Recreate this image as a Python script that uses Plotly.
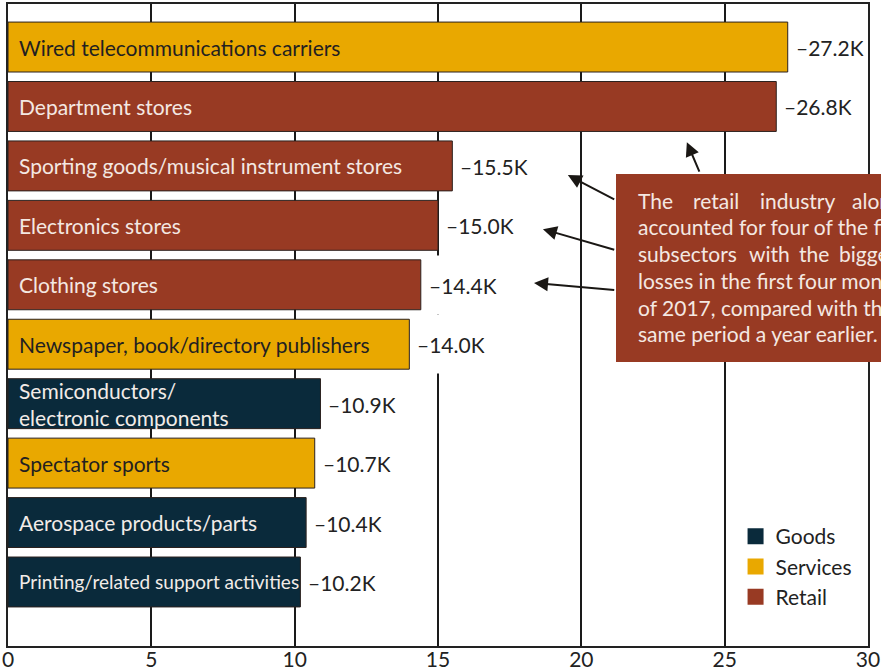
import plotly.graph_objects as go

# Job losses by subsector, first four months of 2017 vs. a year earlier (thousands)
categories = [
    "Wired telecommunications carriers",
    "Department stores",
    "Sporting goods/musical instrument stores",
    "Electronics stores",
    "Clothing stores",
    "Newspaper, book/directory publishers",
    "Semiconductors/<br>electronic components",
    "Spectator sports",
    "Aerospace products/parts",
    "Printing/related support activities",
]
losses = [27.2, 26.8, 15.5, 15.0, 14.4, 14.0, 10.9, 10.7, 10.4, 10.2]
sectors = ["Services", "Retail", "Retail", "Retail", "Retail",
           "Services", "Goods", "Services", "Goods", "Goods"]
value_labels = ["\u201327.2K", "\u201326.8K", "\u201315.5K", "\u201315.0K", "\u201314.4K",
                "\u201314.0K", "\u201310.9K", "\u201310.7K", "\u201310.4K", "\u201310.2K"]
x_ticks = [0, 5, 10, 15, 20, 25, 30]

note_lines = [
    "The retail industry alone",
    "accounted for four of the five",
    "subsectors with the biggest",
    "losses in the first four months",
    "of 2017, compared with the",
    "same period a year earlier.",
]

colors = {"Goods": "#0a2a3b", "Services": "#e9a800", "Retail": "#983a23"}
text_colors = {"Goods": "#f2ece8", "Services": "#231f20", "Retail": "#f4e8e2"}
FONT = "Lato, 'Noto Sans', sans-serif"

W, H = 881, 672
ML, MR, MT, MB = 8, 13, 4, 26
PW, PH = W - ML - MR, H - MT - MB


def px_x(p):
    return (p - ML) / PW


def px_y(p):
    return (H - MB - p) / PH


fig = go.Figure()

positions = list(range(len(categories)))
for sector in ["Goods", "Services", "Retail"]:
    idx = [i for i, s in enumerate(sectors) if s == sector]
    fig.add_trace(go.Bar(
        x=[losses[i] for i in idx],
        y=[positions[i] for i in idx],
        orientation="h",
        width=0.84,
        marker=dict(color=colors[sector], line=dict(color="#2b211e", width=1)),
        showlegend=False,
        hoverinfo="skip",
    ))

# legend entries as square swatches
for sector in ["Goods", "Services", "Retail"]:
    fig.add_trace(go.Scatter(
        x=[None], y=[None], mode="markers", name=sector,
        marker=dict(symbol="square", size=16, color=colors[sector]),
    ))

annotations = []
# category names inside the bars
for i, (cat, s) in enumerate(zip(categories, sectors)):
    size = 19 if cat.startswith("Printing") else 21
    annotations.append(dict(
        x=0, y=i, xref="x", yref="y", text=cat, showarrow=False,
        xanchor="left", xshift=9, align="left",
        font=dict(family=FONT, size=size, color=text_colors[s]),
    ))
# values after the bars
for i, (v, lab) in enumerate(zip(losses, value_labels)):
    annotations.append(dict(
        x=v, y=i, xref="x", yref="y", text=lab, showarrow=False,
        xanchor="left", xshift=6, bgcolor="white", height=56, valign="middle",
        font=dict(family=FONT, size=21, color="#222222"),
    ))

# note text inside the callout box (justified lines set word by word)
line_y0, line_dy = 200, 26.8
word_x = {
    0: [636, 691, 758, 850],
    2: [636, 747, 797, 837],
}
for k, line in enumerate(note_lines):
    yy = px_y(line_y0 + k * line_dy)
    if k in word_x:
        for w, xpx in zip(line.split(" "), word_x[k]):
            annotations.append(dict(
                x=px_x(xpx), y=yy, xref="paper", yref="paper", text=w,
                showarrow=False, xanchor="left", yanchor="middle",
                font=dict(family=FONT, size=21, color="#f4e8e2"),
            ))
    else:
        annotations.append(dict(
            x=px_x(636), y=yy, xref="paper", yref="paper", text=line,
            showarrow=False, xanchor="left", yanchor="middle",
            font=dict(family=FONT, size=21, color="#f4e8e2"),
        ))

# arrows from the callout to the retail bars
arrows = [
    ((23.68, 1.60), (24.14, 2.12)),
    ((19.53, 2.155), (21.2, 2.576)),
    ((18.66, 3.064), (21.2, 3.418)),
    ((18.35, 3.97), (21.2, 4.09)),
]
for (tx, ty), (sx, sy) in arrows:
    annotations.append(dict(
        x=tx, y=ty, xref="x", yref="y", ax=sx, ay=sy, axref="x", ayref="y",
        text="", showarrow=True, arrowhead=2, arrowsize=1.4, arrowwidth=2,
        arrowcolor="#1a1714",
    ))

fig.update_layout(
    width=W, height=H,
    margin=dict(l=ML, r=MR, t=MT, b=MB, autoexpand=False),
    paper_bgcolor="white", plot_bgcolor="white",
    barmode="overlay",
    font=dict(family=FONT, size=20, color="#222222"),
    annotations=annotations,
    shapes=[dict(
        type="rect", xref="paper", yref="paper",
        x0=px_x(616), x1=1.1, y0=px_y(362), y1=px_y(174),
        fillcolor=colors["Retail"], line=dict(width=0), layer="above",
    )],
    legend=dict(
        x=0.846, y=0.2025, xanchor="left", yanchor="top",
        bgcolor="rgba(0,0,0,0)", font=dict(family=FONT, size=21, color="#222222"),
        itemsizing="trace",
    ),
    xaxis=dict(
        range=[0, 30], tickvals=x_ticks, ticktext=[str(t) for t in x_ticks],
        showgrid=True, gridcolor="#1a1a1a", gridwidth=1.5, zeroline=False,
        showline=True, mirror=True, linecolor="#222222", linewidth=2,
        ticks="", ticklabelstandoff=-6, automargin=False,
        tickfont=dict(family=FONT, size=21, color="#222222"),
        fixedrange=True,
    ),
    yaxis=dict(
        range=[10.077, -0.724], showticklabels=False, showgrid=False,
        zeroline=False, showline=True, mirror=True, linecolor="#222222",
        linewidth=2, fixedrange=True, automargin=False,
    ),
)

fig.write_html("out.html")
